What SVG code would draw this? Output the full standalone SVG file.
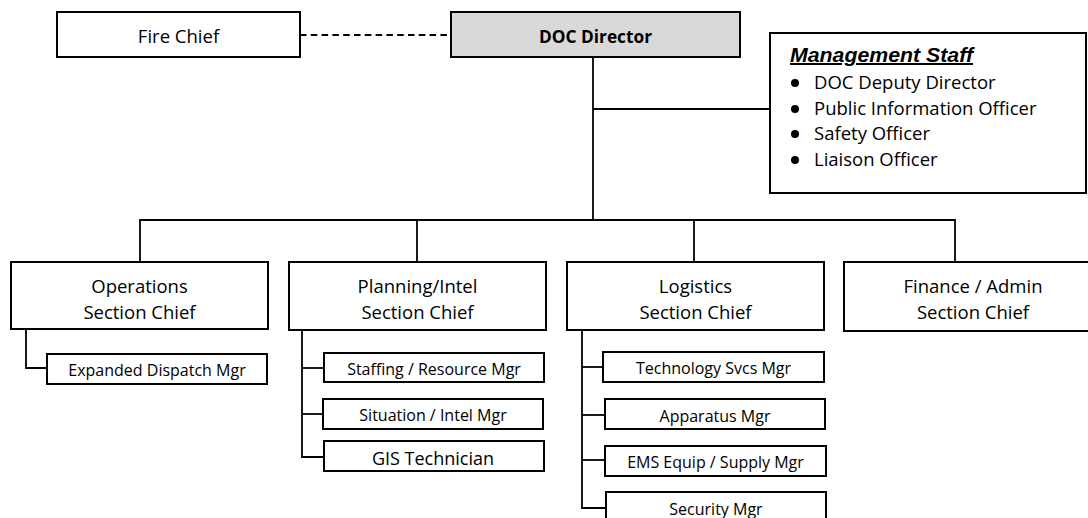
<svg xmlns="http://www.w3.org/2000/svg" width="1088" height="518" viewBox="0 0 1088 518">
  <style>
    .box { fill: #ffffff; stroke: #000000; stroke-width: 2; }
    .head { fill: #d9d9d9; stroke: #000000; stroke-width: 2; }
    .wire { fill: none; stroke: #000000; stroke-width: 1.8; }
    .dash { fill: none; stroke: #000000; stroke-width: 1.8; stroke-dasharray: 6.5 4.3; }
    .lg { font-family: "Open Sans", "Liberation Sans", sans-serif; font-size: 18.5px; fill: #000000; text-anchor: middle; }
    .sm { font-family: "Open Sans", "Liberation Sans", sans-serif; font-size: 16px; fill: #000000; text-anchor: middle; }
    .item { font-family: "Open Sans", "Liberation Sans", sans-serif; font-size: 18.5px; fill: #000000; }
    .title { font-family: "Liberation Sans", Arial, sans-serif; font-size: 20px; font-weight: bold; font-style: italic; text-decoration: underline; fill: #000000; }
  </style>

  <!-- connectors -->
  <g id="connectors">
    <line class="dash" x1="300" y1="35" x2="451" y2="35"/>
    <line class="wire" x1="593" y1="57" x2="593" y2="220"/>
    <line class="wire" x1="593" y1="109" x2="770" y2="109"/>
    <polyline class="wire" points="140,262 140,220 955,220 955,262"/>
    <line class="wire" x1="417" y1="220" x2="417" y2="262"/>
    <line class="wire" x1="694" y1="220" x2="694" y2="262"/>
    <!-- operations branch -->
    <polyline class="wire" points="26,329 26,368 47,368"/>
    <!-- planning branch -->
    <polyline class="wire" points="302,330 302,457 324,457"/>
    <line class="wire" x1="302" y1="368" x2="324" y2="368"/>
    <line class="wire" x1="302" y1="414" x2="323" y2="414"/>
    <!-- logistics branch -->
    <polyline class="wire" points="582,330 582,508 606,508"/>
    <line class="wire" x1="582" y1="367" x2="603" y2="367"/>
    <line class="wire" x1="582" y1="415" x2="605" y2="415"/>
    <line class="wire" x1="582" y1="460" x2="605" y2="460"/>
  </g>

  <g id="fire-chief">
    <rect class="box" x="57" y="12" width="243" height="45"/>
    <text class="lg" x="178.5" y="43">Fire Chief</text>
  </g>

  <g id="doc-director">
    <rect class="head" x="451" y="12" width="289" height="45"/>
    <text class="lg" x="595.5" y="43" style="font-weight: bold; font-size: 17.3px">DOC Director</text>
  </g>

  <g id="management-staff">
    <rect class="box" x="770" y="33" width="316" height="160"/>
    <text class="title" x="790" y="62" textLength="183" lengthAdjust="spacingAndGlyphs">Management Staff</text>
    <circle cx="795" cy="83" r="4"/>
    <text class="item" x="814" y="89">DOC Deputy Director</text>
    <circle cx="795" cy="109" r="4"/>
    <text class="item" x="814" y="115">Public Information Officer</text>
    <circle cx="795" cy="134" r="4"/>
    <text class="item" x="814" y="140">Safety Officer</text>
    <circle cx="795" cy="160" r="4"/>
    <text class="item" x="814" y="166">Liaison Officer</text>
  </g>

  <g id="operations">
    <rect class="box" x="11" y="262" width="257" height="67"/>
    <text class="lg" x="139.5" y="293">Operations</text>
    <text class="lg" x="139.5" y="319">Section Chief</text>
  </g>

  <g id="planning">
    <rect class="box" x="289" y="262" width="257" height="68"/>
    <text class="lg" x="417.5" y="293">Planning/Intel</text>
    <text class="lg" x="417.5" y="319">Section Chief</text>
  </g>

  <g id="logistics">
    <rect class="box" x="567" y="262" width="257" height="68"/>
    <text class="lg" x="695.5" y="293">Logistics</text>
    <text class="lg" x="695.5" y="319">Section Chief</text>
  </g>

  <g id="finance">
    <rect class="box" x="844" y="262" width="258" height="69"/>
    <text class="lg" x="973" y="293">Finance / Admin</text>
    <text class="lg" x="973" y="319">Section Chief</text>
  </g>

  <g id="expanded-dispatch">
    <rect class="box" x="47" y="354" width="220" height="30"/>
    <text class="sm" x="157" y="376">Expanded Dispatch Mgr</text>
  </g>

  <g id="staffing">
    <rect class="box" x="324" y="353" width="220" height="29"/>
    <text class="sm" x="434" y="375">Staffing / Resource Mgr</text>
  </g>

  <g id="situation">
    <rect class="box" x="323" y="399" width="220" height="30"/>
    <text class="sm" x="433" y="421">Situation / Intel Mgr</text>
  </g>

  <g id="gis">
    <rect class="box" x="324" y="441" width="220" height="30"/>
    <text class="sm" x="433" y="465" style="font-size: 18px">GIS Technician</text>
  </g>

  <g id="technology">
    <rect class="box" x="603" y="352" width="221" height="30"/>
    <text class="sm" x="713.5" y="374">Technology Svcs Mgr</text>
  </g>

  <g id="apparatus">
    <rect class="box" x="605" y="399" width="220" height="30"/>
    <text class="sm" x="715" y="422">Apparatus Mgr</text>
  </g>

  <g id="ems-supply">
    <rect class="box" x="605" y="446" width="221" height="30"/>
    <text class="sm" x="715.5" y="468">EMS Equip / Supply Mgr</text>
  </g>

  <g id="security">
    <rect class="box" x="606" y="492" width="220" height="30"/>
    <text class="sm" x="716" y="515">Security Mgr</text>
  </g>
</svg>
